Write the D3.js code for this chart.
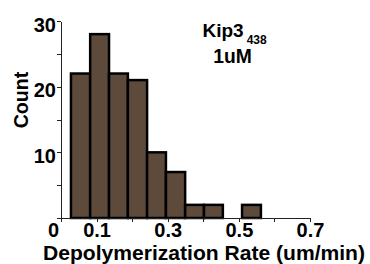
<!DOCTYPE html>
<html lang="en">
<head>
    <meta charset="UTF-8">
    <title>Depolymerization histogram</title>
    <style>
        body {
            margin: 0;
            background-color: #ffffff;
        }
        svg {
            display: block;
            font-family: "Liberation Sans", Arial, sans-serif;
            font-weight: bold;
        }
        .axis path,
        .axis line {
            fill: none;
            stroke: #222;
            stroke-width: 1px;
            shape-rendering: crispEdges;
        }
        .axis text {
            font-size: 20px;
            font-weight: bold;
            fill: #000;
        }
    </style>
</head>
<body>
<script src="https://d3js.org/d3.v7.min.js"></script>
<script>
    // histogram data
    var binEdges = [0.028, 0.082, 0.135, 0.188, 0.242, 0.295, 0.349, 0.402, 0.455, 0.509, 0.562];
    var counts = [22, 28, 22, 21, 10, 7, 2, 2, 0, 2];
    var xTicks = [0, 0.1, 0.2, 0.3, 0.4, 0.5, 0.6, 0.7];
    var xTickLabels = ["0", "0.1", "", "0.3", "", "0.5", "", "0.7"];
    var yTicks = [0, 5, 10, 15, 20, 25, 30];
    var yTickLabels = ["", "", "10", "", "20", "", "30"];

    var width = 370, height = 264;

    var svg = d3.select("body").append("svg")
        .attr("width", width)
        .attr("height", height);

    var xScale = d3.scaleLinear().domain([0, 0.7]).range([61, 310]);
    var yScale = d3.scaleLinear().domain([0, 30]).range([218, 21]);

    var bins = counts.map(function(c, i) {
        return {x0: binEdges[i], x1: binEdges[i + 1], count: c};
    });

    // bars
    svg.selectAll(".bar")
        .data(bins.filter(function(d) { return d.count > 0; }))
        .enter().append("rect")
        .attr("class", "bar")
        .attr("x", function(d) { return xScale(d.x0); })
        .attr("y", function(d) { return yScale(d.count); })
        .attr("width", function(d) { return xScale(d.x1) - xScale(d.x0); })
        .attr("height", function(d) { return yScale(0) - yScale(d.count); })
        .attr("fill", "#5d4a3a")
        .attr("stroke", "#000")
        .attr("stroke-width", 2.5);

    // x axis
    var xAxis = d3.axisBottom(xScale)
        .tickValues(xTicks)
        .tickFormat(function(d, i) { return xTickLabels[i]; })
        .tickSize(4)
        .tickPadding(1)
        .tickSizeOuter(0);

    var gx = svg.append("g")
        .attr("class", "axis")
        .attr("transform", "translate(0," + yScale(0) + ")")
        .call(xAxis);
    gx.selectAll(".tick text")
        .filter(function(d) { return d === 0; })
        .attr("dx", -8);

    // y axis
    var yAxis = d3.axisLeft(yScale)
        .tickValues(yTicks)
        .tickFormat(function(d, i) { return yTickLabels[i]; })
        .tickSize(4)
        .tickPadding(1)
        .tickSizeOuter(0);

    var gy = svg.append("g")
        .attr("class", "axis")
        .attr("transform", "translate(" + xScale(0) + ",0)")
        .call(yAxis);
    gy.selectAll(".tick text").attr("dy", "0.5em");

    // axis titles
    svg.append("text")
        .attr("text-anchor", "middle")
        .attr("x", 204)
        .attr("y", 260)
        .attr("font-size", 19.8)
        .attr("textLength", 322)
        .attr("lengthAdjust", "spacingAndGlyphs")
        .text("Depolymerization Rate (um/min)");

    svg.append("text")
        .attr("text-anchor", "middle")
        .attr("transform", "translate(28,100) rotate(-90)")
        .attr("font-size", 19.6)
        .text("Count");

    // label
    var title = svg.append("text")
        .attr("x", 202.5)
        .attr("y", 37)
        .attr("font-size", 19);
    title.append("tspan").text("Kip3");
    title.append("tspan")
        .attr("dx", 3)
        .attr("dy", 7)
        .attr("font-size", 12)
        .text("438");

    svg.append("text")
        .attr("text-anchor", "middle")
        .attr("x", 232.5)
        .attr("y", 63)
        .attr("font-size", 19.3)
        .text("1uM");
</script>
</body>
</html>
